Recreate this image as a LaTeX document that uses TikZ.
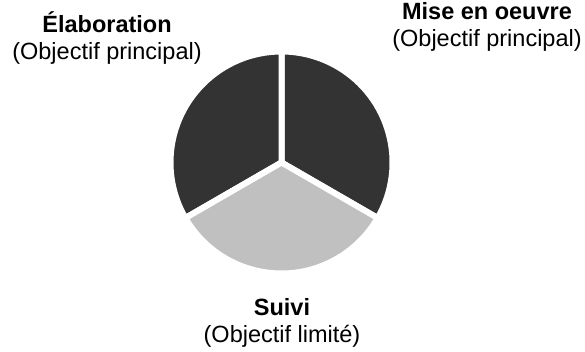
\documentclass[tikz,border=0pt]{standalone}
\usepackage{fontspec}
\setmainfont{Liberation Sans}
\definecolor{darkslice}{HTML}{333333}
\definecolor{lightslice}{HTML}{C0C0C0}
\begin{document}
\begin{tikzpicture}[x=1pt, y=1pt,
    slice/.style={draw=white, line width=6pt, line join=miter},
    caption/.style={align=center, inner sep=0pt, font=\fontsize{23.5}{27}\selectfont}]
    % Parameters
    \def\radius{111}
    \useasboundingbox (0,0) rectangle (585,352);
    \coordinate (centre) at (281.5,189.5);

    % Draw the slices
    \foreach \start/\stop/\shade in {-30/90/darkslice, 90/210/darkslice, 210/330/lightslice} {
            \filldraw[slice, fill=\shade] (centre) -- ++(\start:\radius) arc[start angle=\start, end angle=\stop, radius=\radius] -- cycle;
        }

    % Add captions
    \node[caption] (elaboration) at (107,314) {\textbf{Élaboration}\\(Objectif principal)};
    \node[caption] (miseoeuvre) at (487,325) {\textbf{Mise en oeuvre}\\(Objectif principal)};
    \node[caption] (suivi) at (282,29) {\textbf{Suivi}\\(Objectif limité)};
\end{tikzpicture}
\end{document}
